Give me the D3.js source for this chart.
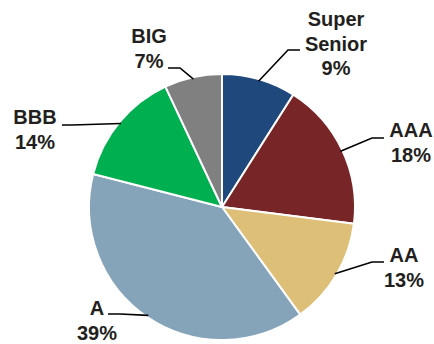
<!DOCTYPE html>
<html>
<head>
<meta charset="utf-8">
<script src="https://cdn.jsdelivr.net/npm/d3@7"></script>
<style>
  html, body { margin: 0; padding: 0; background: #fff; }
  svg { display: block; }
  text { font-family: "Liberation Sans", Arial, sans-serif; font-weight: bold; font-size: 20px; fill: #231F20; }
</style>
</head>
<body>
<svg id="chart" width="434" height="344"></svg>
<script>
// Rating mix of the portfolio (percent of total)
const categories = ["Super Senior", "AAA", "AA", "A", "BBB", "BIG"];
const values = [9, 18, 13, 39, 14, 7];
const labelLines = [["Super", "Senior"], ["AAA"], ["AA"], ["A"], ["BBB"], ["BIG"]];
const colors = ["#1F497D", "#772527", "#DDBF78", "#85A4B9", "#00B050", "#808080"];

// Label placement: text anchor (first baseline), leader elbow and leader end
const labelLayout = [
  { x: 336, y: 26,  elbow: [288, 50],  end: [300, 50] },
  { x: 411, y: 137, elbow: [372, 138], end: [384, 138] },
  { x: 404, y: 262, elbow: [372, 262], end: [384, 262] },
  { x: 97,  y: 315, elbow: [120, 314], end: [108, 314] },
  { x: 35,  y: 124, elbow: [72, 125],  end: [62, 125] },
  { x: 149, y: 43,  elbow: [180, 68],  end: [168, 68] }
];

const cx = 222, cy = 207, radius = 133;
const svg = d3.select("#chart");
const g = svg.append("g").attr("transform", `translate(${cx},${cy})`);

const pie = d3.pie().sort(null).value(d => d.value);
const arcs = pie(categories.map((c, i) => ({ name: c, value: values[i], i })));

const arc = d3.arc().innerRadius(0).outerRadius(radius);
const edgeArc = d3.arc().innerRadius(radius - 2).outerRadius(radius - 2);

g.selectAll("path.slice")
  .data(arcs)
  .join("path")
  .attr("class", "slice")
  .attr("d", arc)
  .attr("fill", d => colors[d.data.i])
  .attr("stroke", "#fff")
  .attr("stroke-width", 2)
  .attr("stroke-linejoin", "round");

// Leader lines from the slice edge to each label
const leaders = svg.append("g");
arcs.forEach(d => {
  const L = labelLayout[d.data.i];
  const [sx, sy] = edgeArc.centroid(d);
  leaders.append("polyline")
    .attr("points", [[sx + cx, sy + cy], L.elbow, L.end].map(p => p.join(",")).join(" "))
    .attr("fill", "none")
    .attr("stroke", "#000")
    .attr("stroke-width", 1.6);
});

// Labels: name line(s) then percent
const labels = svg.append("g");
arcs.forEach(d => {
  const L = labelLayout[d.data.i];
  const lines = labelLines[d.data.i].concat([d3.format("d")(d.data.value) + "%"]);
  const t = labels.append("text")
    .attr("text-anchor", "middle");
  lines.forEach((ln, k) => {
    t.append("tspan")
      .attr("x", L.x)
      .attr("y", L.y + k * 24.5)
      .text(ln);
  });
});
</script>
</body>
</html>
